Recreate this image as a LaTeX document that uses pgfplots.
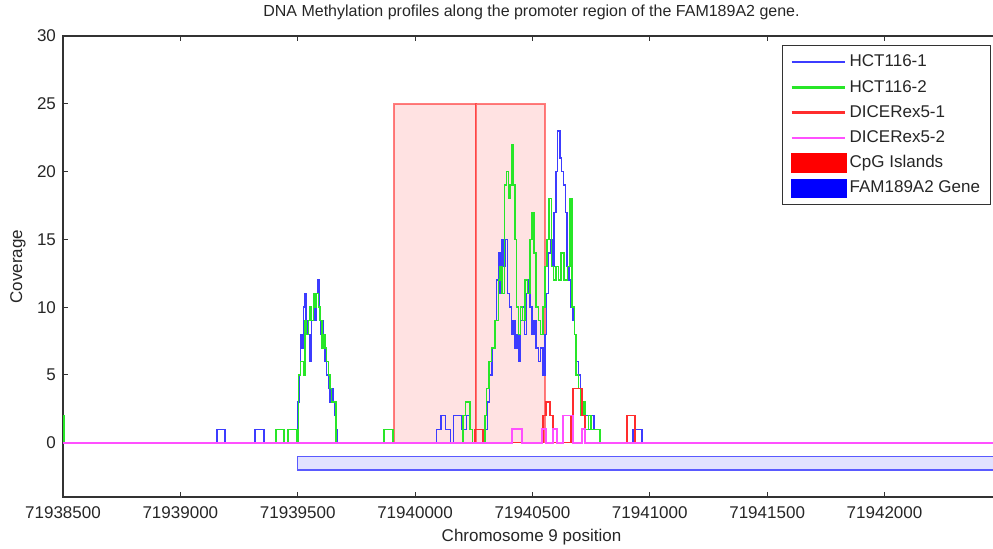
\documentclass[border=0pt]{standalone}
\usepackage{pgfplots}
\pgfplotsset{compat=1.18}
\usepackage{pgfplotstable}
\usepackage{fontspec}
\setmainfont{Liberation Sans}

\definecolor{hcta}{RGB}{60,60,255}
\definecolor{hctb}{RGB}{40,230,40}
\definecolor{dica}{RGB}{255,45,45}
\definecolor{dicb}{RGB}{255,80,255}
\definecolor{cpgfill}{RGB}{255,226,226}
\definecolor{cpgedge}{RGB}{255,40,40}
\definecolor{genefill}{RGB}{226,226,255}
\definecolor{geneedge}{RGB}{90,90,255}

% x = chromosome 9 position - 71938500
\pgfplotstableread{
x y
0 0
656 1
690 0
818 1
856 0
1002 3
1006 5
1012 8
1018 7
1024 10
1029 11
1035 8
1040 9
1045 8
1052 6
1058 9
1066 10
1074 9
1081 11
1086 12
1092 10
1097 8
1103 9
1109 7
1116 6
1123 5
1130 4
1137 3
1144 4
1151 3
1158 2
1163 1
1167 0
1592 1
1610 2
1630 1
1650 0
1663 2
1700 1
1720 2
1734 1
1745 0
1800 1
1808 3
1818 5
1828 7
1840 9
1848 12
1856 14
1862 11
1870 15
1878 13
1886 15
1894 11
1902 10
1910 8
1918 9
1926 7
1934 8
1942 6
1950 9
1958 10
1966 8
1974 11
1982 12
1990 10
1998 8
2006 9
2015 7
2025 6
2035 7
2045 5
2053 8
2060 11
2068 14
2076 15
2084 13
2092 17
2100 20
2108 23
2117 21
2124 20
2132 19
2140 17
2148 13
2156 12
2164 10
2172 9
2180 8
2188 6
2196 5
2205 4
2214 3
2222 2
2240 1
2250 2
2262 1
2290 0
2428 1
2467 0
3992 0
}\hctone

\pgfplotstableread{
x y
0 2
4 0
907 1
941 0
958 1
997 0
1004 5
1013 6
1024 5
1031 9
1038 8
1045 9
1052 10
1059 9
1066 11
1074 10
1081 11
1088 10
1095 9
1103 7
1109 8
1116 7
1123 6
1130 5
1137 4
1144 3
1163 0
1367 1
1406 0
1705 2
1714 3
1734 1
1745 0
1798 2
1805 4
1815 6
1826 7
1840 9
1855 12
1862 13
1870 11
1880 19
1890 20
1898 18
1904 19
1912 22
1918 19
1926 15
1933 10
1940 8
1950 10
1958 9
1968 12
1978 11
1989 15
1998 17
2006 14
2015 10
2025 9
2035 8
2045 10
2053 13
2062 15
2070 18
2080 13
2090 12
2100 13
2110 12
2122 14
2135 12
2150 13
2160 18
2168 10
2178 8
2186 5
2196 4
2205 2
2215 3
2224 1
2240 2
2250 1
2288 0
3992 0
}\hcttwo

\pgfplotstableread{
x y
0 0
1755 1
1790 0
2045 2
2058 3
2075 2
2087 0
2164 2
2173 4
2211 2
2224 0
2403 2
2437 0
3992 0
}\dicerone

\pgfplotstableread{
x y
0 0
1913 1
1955 0
2041 1
2058 0
2087 1
2104 0
2130 2
2173 0
2211 1
2224 0
3992 0
}\dicertwo

\begin{document}
\begin{tikzpicture}
\begin{axis}[
    name=ax,
    scale only axis,
    width=468.5pt, height=230.5pt,
    xmin=0, xmax=3992,
    ymin=-4, ymax=30,
    xtick={0,500,...,3500},
    xticklabels={71938500,71939000,71939500,71940000,71940500,71941000,71941500,71942000},
    ytick={0,5,...,30},
    tick align=inside,
    major tick length=2.5pt,
    tick style={black!80, line width=0.5pt},
    axis line style={black!80, line width=0.6pt},
    /pgf/number format/assume math mode=true,
    ticklabel style={font=\fontsize{8.5}{10}\selectfont, text=black!85},
    xticklabel style={yshift=-1.5pt},
    title={DNA Methylation profiles along the promoter region of the FAM189A2 gene.},
    title style={font=\fontsize{8}{10}\selectfont, text=black!85, at={(axis description cs:0.5,1)}, anchor=center, yshift=6pt},
    xlabel={Chromosome 9 position},
    xlabel style={font=\fontsize{8.5}{10}\selectfont, text=black!85, at={(axis description cs:0.5,0)}, anchor=center, yshift=-20pt},
    ylabel={Coverage},
    ylabel style={font=\fontsize{8.5}{10}\selectfont, text=black!85, at={(axis description cs:-0.048,0.5)}, anchor=center},
    legend cell align=left,
    legend image code/.code={\draw[#1, line width=1.2pt] (0cm,0cm) -- (0.93cm,0cm);},
    legend style={at={(axis description cs:1,1)}, anchor=north east,
        xshift=-4.5pt, yshift=-4.5pt, draw=black!80, line width=0.5pt,
        font=\fontsize{8.5}{10}\selectfont, text=black!85,
        inner xsep=4pt, inner ysep=2.5pt, row sep=1pt,
        nodes={inner sep=1.2pt, text height=7pt, text depth=2.2pt}},
]
% CpG islands and gene body
\addplot[forget plot, fill=cpgfill, draw=cpgedge, draw opacity=0.6, line width=0.7pt]
    coordinates {(1410,0) (1410,25) (1760,25) (1760,0)} -- cycle;
\addplot[forget plot, fill=cpgfill, draw=cpgedge, draw opacity=0.6, line width=0.7pt]
    coordinates {(1760,0) (1760,25) (2053,25) (2053,0)} -- cycle;
\addplot[forget plot, fill=genefill, draw=geneedge, line width=0.7pt]
    coordinates {(1000,-1) (1000,-2) (4100,-2) (4100,-1)} -- cycle;

\addplot[const plot, hcta, line width=0.7pt] table[x=x, y=y] {\hctone};
\addlegendentry{HCT116-1}
\addplot[const plot, hctb, line width=0.7pt] table[x=x, y=y] {\hcttwo};
\addlegendentry{HCT116-2}
\addplot[const plot, dica, line width=0.7pt] table[x=x, y=y] {\dicerone};
\addlegendentry{DICERex5-1}
\addplot[const plot, dicb, line width=0.8pt] table[x=x, y=y] {\dicertwo};
\addlegendentry{DICERex5-2}

\addlegendimage{legend image code/.code={\fill[red] (0cm,-0.16cm) rectangle (0.97cm,0.16cm);}}
\addlegendentry{CpG Islands}
\addlegendimage{legend image code/.code={\fill[blue] (0cm,-0.16cm) rectangle (0.97cm,0.16cm);}}
\addlegendentry{FAM189A2 Gene}
\end{axis}
\pgfresetboundingbox
\useasboundingbox ([shift={(-31.5pt,-25.5pt)}]ax.south west) rectangle ([shift={(465pt,248.5pt)}]ax.south west);
\end{tikzpicture}
\end{document}
